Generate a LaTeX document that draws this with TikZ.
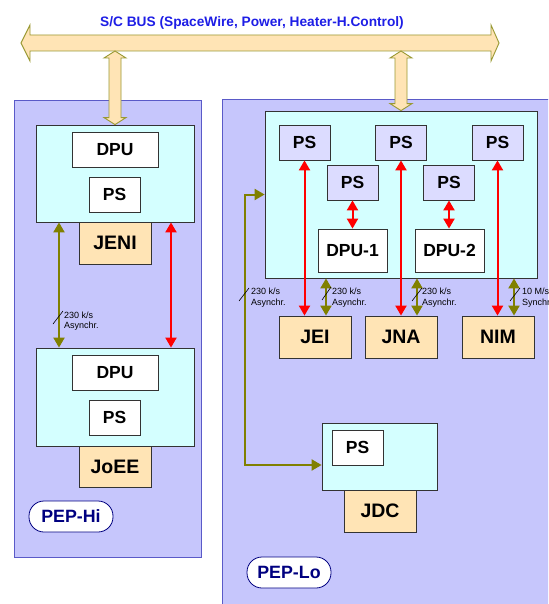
\documentclass[tikz,border=0pt]{standalone}
\usepackage{fontspec}
\setmainfont{Liberation Sans}
\usepackage{xcolor}
\usetikzlibrary{arrows.meta,calc}
\definecolor{panelfill}{HTML}{C6C6FC}
\definecolor{panelline}{HTML}{5A5AC8}
\definecolor{framefill}{HTML}{D4FFFF}
\definecolor{frameline}{HTML}{333333}
\definecolor{unitfill}{HTML}{FFE4B5}
\definecolor{psfill}{HTML}{DCDCFF}
\definecolor{busfill}{HTML}{FFE4B5}
\definecolor{busline}{HTML}{999933}
\definecolor{busblue}{HTML}{1E1EE6}
\definecolor{olivelink}{HTML}{808000}
\definecolor{pepnavy}{HTML}{000080}

\begin{document}
\begin{tikzpicture}[x=1pt,y=-1pt,>={Triangle[length=10pt,width=11pt]},
panel/.style={draw=panelline,fill=panelfill,line width=1pt,anchor=north west,inner sep=0pt},
frame/.style={draw=frameline,fill=framefill,line width=0.8pt,inner sep=0pt},
box/.style={draw=frameline,fill=white,line width=0.8pt,inner sep=0pt,minimum width=51pt,minimum height=35pt,font=\bfseries\fontsize{17.5}{18}\selectfont},
psbox/.style={box,fill=psfill},
unit/.style={box,fill=unitfill,minimum width=72pt,minimum height=42pt,font=\bfseries\fontsize{19.5}{20}\selectfont},
pep/.style={draw=pepnavy,fill=white,text=pepnavy,line width=0.8pt,rounded corners=15pt,minimum width=84pt,minimum height=31pt,inner sep=0pt,font=\bfseries\fontsize{17.8}{18}\selectfont},
busarrow/.style={fill=busfill,draw=busline,line width=0.9pt},
link/.style={<->,draw=olivelink,line width=2pt},
pwr/.style={<->,draw=red,line width=2pt},
rate/.style={anchor=west,align=left,inner sep=0pt,font=\fontsize{9}{10.5}\selectfont},
tick/.style={line width=0.6pt}]
\useasboundingbox (0,0) rectangle (548,604);
\clip (0,0) rectangle (548,604);
\fill[white] (0,0) rectangle (548,604);
% instrument panels
\node[panel,minimum width=187pt,minimum height=457pt] (hi) at (14,100) {};
\node[panel,minimum width=340pt,minimum height=520pt] (lo) at (222,99) {};
% S/C bus
\draw[busarrow] (21,43) -- (30,25) -- (30,35) -- (491,35) -- (491,25) -- (499,43)
  -- (491,61) -- (491,51) -- (30,51) -- (30,61) -- cycle;
\node[font=\bfseries\fontsize{13.7}{14}\selectfont,text=busblue] (bustitle) at (252,22.7) {S/C BUS (SpaceWire, Power, Heater-H.Control)};
\coordinate (busfoot) at (0,51);
% PEP-Hi
\node[frame,minimum width=158pt,minimum height=97pt] (hitop) at (115,173.5) {};
\node[box,minimum width=86pt] (dpuA) at (115,149.5) {DPU};
\node[box] (psA) at (114.5,194.5) {PS};
\node[unit] (jeni) at (115,243) {JENI};
\node[frame,minimum width=158pt,minimum height=98pt] (hibot) at (115,397) {};
\node[box,minimum width=86pt] (dpuB) at (115,372.5) {DPU};
\node[box] (psB) at (114.5,417.5) {PS};
\node[unit,minimum height=41pt] (joee) at (115,466.5) {JoEE};
\node[pep] (pephi) at (71,516.5) {PEP-Hi};
% PEP-Lo
\node[frame,minimum width=272pt,minimum height=167pt] (lotop) at (401,194.5) {};
\node[psbox] (ps1) at (304.5,142.5) {PS};
\node[psbox] (ps2) at (401,142.5) {PS};
\node[psbox] (ps3) at (497.5,142.5) {PS};
\node[psbox] (psa) at (352.5,182.5) {PS};
\node[psbox] (psb) at (449,182.5) {PS};
\node[box,minimum width=69pt,minimum height=43pt] (dpu1) at (352.5,250.5) {DPU-1};
\node[box,minimum width=69pt,minimum height=43pt] (dpu2) at (449.5,250.5) {DPU-2};
\node[unit] (jei) at (315,337) {JEI};
\node[unit] (jna) at (401,337) {JNA};
\node[unit] (nim) at (498,337) {NIM};
\node[frame,minimum width=115pt,minimum height=67pt] (jdcf) at (379.5,456.5) {};
\node[box] (psc) at (357.5,447.5) {PS};
\node[unit] (jdc) at (380,511) {JDC};
\node[pep] (peplo) at (289,572.5) {PEP-Lo};
% bus taps
\foreach \f in {hitop,lotop}
  \draw[busarrow] (\f.north) -- ++(-11,-7) -- ++(5,0) -- ($(\f.north|-busfoot)+(-6,7)$) -- ++(-5,0)
    -- (\f.north|-busfoot) -- ++(11,7) -- ++(-5,0) -- ($(\f.north)+(6,-7)$) -- ++(5,0) -- cycle;
% links
\draw[link] ([xshift=-56pt]hitop.south) -- ([xshift=-56pt]hibot.north);
\draw[pwr] ([xshift=56pt]hitop.south) -- ([xshift=56pt]hibot.north);
\draw[pwr] (psa.south) -- (psa.south|-dpu1.north);
\draw[pwr] (psb.south) -- (psb.south|-dpu2.north);
\foreach \p/\u in {ps1/jei,ps2/jna,ps3/nim}
  \draw[pwr] (\p.south) -- (\p.south|-\u.north);
\foreach \u/\d in {jei/11,jna/16,nim/16}
  \draw[link] ([xshift=\d pt]\u.north|-lotop.south) -- ([xshift=\d pt]\u.north);
\coordinate (feed) at (245,465);
\draw[link] (lotop.west) -| (feed) -- (feed-|jdcf.west);
% data rates
\draw[tick] (53,324) -- (63,311);
\node[rate] (rhi) at (64,321) {230 k/s\\Asynchr.};
\draw[tick] (239,301) -- (249,288);
\node[rate] (rjdc) at (251,297.5) {230 k/s\\Asynchr.};
\draw[tick] (322,300) -- (331,287);
\node[rate] (rjei) at (332,297.5) {230 k/s\\Asynchr.};
\draw[tick] (412,301) -- (422,288);
\node[rate] (rjna) at (422,297.5) {230 k/s\\Asynchr.};
\draw[tick] (510,301) -- (520,288);
\node[rate] (rnim) at (522,297.5) {10 M/s\\Synchr.};
\end{tikzpicture}
\end{document}
